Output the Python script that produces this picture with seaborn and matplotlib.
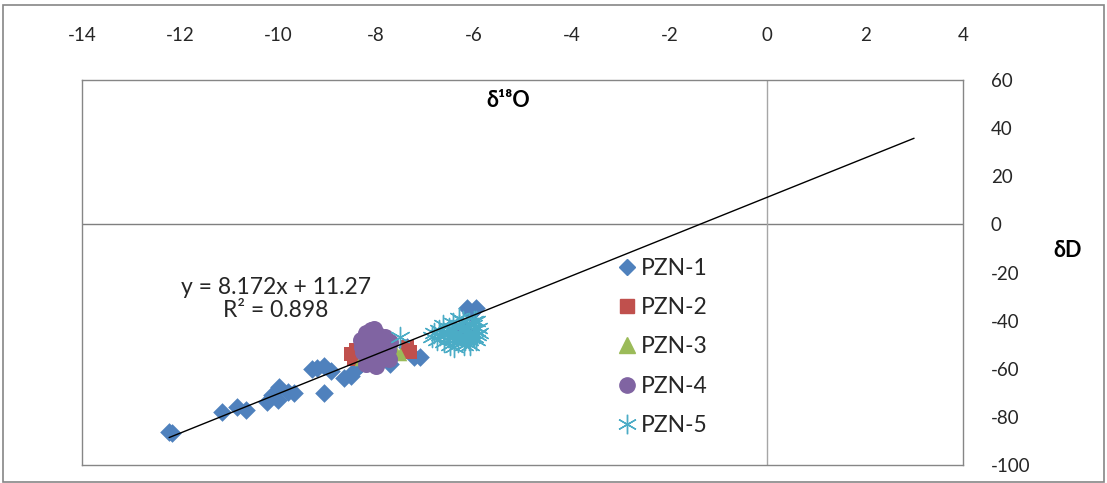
import matplotlib
matplotlib.use("Agg")
import matplotlib.pyplot as plt
import seaborn as sns
import pandas as pd
from matplotlib.patches import Rectangle
from matplotlib.lines import Line2D

# ---------------- data ----------------
x_ticks = [-14, -12, -10, -8, -6, -4, -2, 0, 2, 4]
y_ticks = [-100, -80, -60, -40, -20, 0, 20, 40, 60]

series_names = ["PZN-1", "PZN-2", "PZN-3", "PZN-4", "PZN-5"]

x1 = [-12.22, -12.16, -11.14, -10.84, -10.65, -10.22, -10.12, -9.98, -9.80, -9.67,
      -9.20, -9.06, -8.92, -9.06, -8.65, -8.50, -8.45, -8.30, -7.70, -7.37,
      -7.22, -7.10, -6.14, -5.96, -6.06, -6.20, -9.30, -10.0]
y1 = [-86.3, -86.7, -77.9, -75.8, -77.0, -74.0, -71.0, -67.5, -69.6, -70.0,
      -59.6, -59.0, -61.0, -70.0, -64.0, -63.0, -61.0, -58.0, -58.0, -51.0,
      -55.0, -55.0, -34.6, -34.6, -37.0, -44.0, -60.0, -73.0]

x2 = [-8.50, -8.45, -7.30, -7.35, -8.40]
y2 = [-54.0, -56.0, -53.0, -51.0, -52.0]

x3 = [-7.60, -8.00, -7.50, -8.30, -7.70]
y3 = [-52.0, -55.0, -54.0, -56.0, -50.0]

x4 = [-8.30, -8.20, -8.10, -8.04, -7.95, -7.90, -7.85, -7.80, -7.75, -7.70,
      -8.25, -8.15, -8.05, -7.98, -7.88, -7.78, -8.20, -8.00, -7.92, -8.10,
      -7.72, -8.28]
y4 = [-48.0, -45.0, -44.0, -43.3, -46.0, -48.0, -50.0, -47.0, -52.0, -49.0,
      -53.0, -51.0, -55.0, -57.0, -56.0, -54.0, -58.0, -59.0, -52.0, -50.0,
      -56.0, -51.0]

x5 = [-6.85, -6.80, -6.75, -6.70, -6.68, -6.62, -6.60, -6.55, -6.52, -6.50,
      -6.48, -6.45, -6.42, -6.40, -6.38, -6.35, -6.32, -6.30, -6.28, -6.25,
      -6.22, -6.20, -6.18, -6.15, -6.12, -6.10, -6.08, -6.05, -6.02, -6.00,
      -5.98, -5.95, -5.92, -5.90, -5.88, -6.60, -6.40, -6.30, -6.20, -6.10,
      -6.00, -6.50, -6.25, -6.15, -5.95, -7.50]
y5 = [-47.0, -45.0, -48.0, -44.0, -46.0, -42.0, -49.0, -45.0, -47.0, -43.0,
      -50.0, -46.0, -41.0, -48.0, -44.0, -46.0, -49.0, -42.0, -45.0, -47.0,
      -40.0, -44.0, -48.0, -43.0, -46.0, -41.0, -50.0, -45.0, -42.0, -47.0,
      -44.0, -40.0, -46.0, -43.0, -45.0, -45.0, -51.0, -39.0, -50.0, -48.0,
      -40.0, -45.0, -44.0, -47.0, -48.0, -47.0]

slope = 8.172
intercept = 11.27
line_x_end = 3.0
eq_text = "y = 8.172x + 11.27\nR² = 0.898"

# ---------------- style ----------------
sns.set_theme(style="white")
plt.rcParams['font.family'] = ['Lato', 'DejaVu Sans']

colors = ["#4F81BD", "#C0504D", "#9BBB59", "#8064A2", "#4BACC6"]
grey = "#868686"
fs_tick = 13.5
fs_big = 16.5

fig = plt.figure(figsize=(11.07, 4.83), dpi=100)
ax = fig.add_axes([82 / 1107, 18 / 483, 881 / 1107, 385 / 483])

ax.axhline(0, color="#7f7f7f", lw=1, zorder=1)
ax.axvline(0, color="#a6a6a6", lw=1, zorder=1)

series = [(x1, y1), (x2, y2), (x3, y3), (x4, y4), (x5, y5)]
kw = [dict(marker="D", s=90, linewidth=0),
      dict(marker="s", s=95, linewidth=0),
      dict(marker="^", s=95, linewidth=0),
      dict(marker="o", s=150, linewidth=0),
      dict(marker=(6, 2, 0), s=210, linewidth=1.0)]

for (xs, ys), name, c, k in zip(series, series_names, colors, kw):
    df = pd.DataFrame({"x": xs, "y": ys})
    sns.scatterplot(data=df, x="x", y="y", ax=ax, color=c, edgecolor=c,
                    zorder=3, legend=False, **k)

# trendline
all_x = x1 + x2 + x3 + x4 + x5
xmin = min(all_x)
tl = pd.DataFrame({"x": [xmin, line_x_end],
                   "y": [slope * xmin + intercept, slope * line_x_end + intercept]})
sns.lineplot(data=tl, x="x", y="y", ax=ax, color="black", lw=1, zorder=4)

ax.set_xlim(-14, 4)
ax.set_ylim(-100, 60)
ax.set_xticks(x_ticks)
ax.set_yticks(y_ticks)
ax.set_xticklabels([str(t) for t in x_ticks])
ax.set_yticklabels([str(t) for t in y_ticks])
ax.xaxis.tick_top()
ax.yaxis.tick_right()
ax.tick_params(axis="x", length=0, pad=26, labelsize=fs_tick, colors="#262626")
ax.tick_params(axis="y", length=0, pad=20, labelsize=fs_tick, colors="#262626")
ax.set_xlabel("")
ax.set_ylabel("")
for sp in ax.spines.values():
    sp.set_color(grey)
    sp.set_linewidth(1)

ax.text(-5.29, 51.3, "δ¹⁸O", ha="center", va="center", fontsize=15.5,
        fontweight="bold", color="black")
ax.text(1.119, 0.558, "δD", transform=ax.transAxes, ha="center", va="center",
        fontsize=15.5, fontweight="bold", color="black")
ax.text(-10.04, -31.0, eq_text, ha="center", va="center", fontsize=fs_big,
        color="#262626", linespacing=1.15)

handles = [
    Line2D([], [], ls="", marker="D", ms=8, color=colors[0]),
    Line2D([], [], ls="", marker="s", ms=10, color=colors[1]),
    Line2D([], [], ls="", marker="^", ms=11, color=colors[2]),
    Line2D([], [], ls="", marker="o", ms=11, color=colors[3]),
    Line2D([], [], ls="", marker=(6, 2, 0), ms=14, color=colors[4], mew=1),
]
leg = ax.legend(handles, series_names, loc="upper left",
                bbox_to_anchor=(0.585, 0.592), frameon=False, fontsize=fs_big,
                labelspacing=0.8, handletextpad=0.2, handlelength=0.8)
for t in leg.get_texts():
    t.set_color("#262626")

fig.patches.append(Rectangle((0.003, 0.002), 0.994, 0.988, transform=fig.transFigure,
                             fill=False, edgecolor=grey, lw=1.2))

fig.savefig("out.png", dpi=100)
